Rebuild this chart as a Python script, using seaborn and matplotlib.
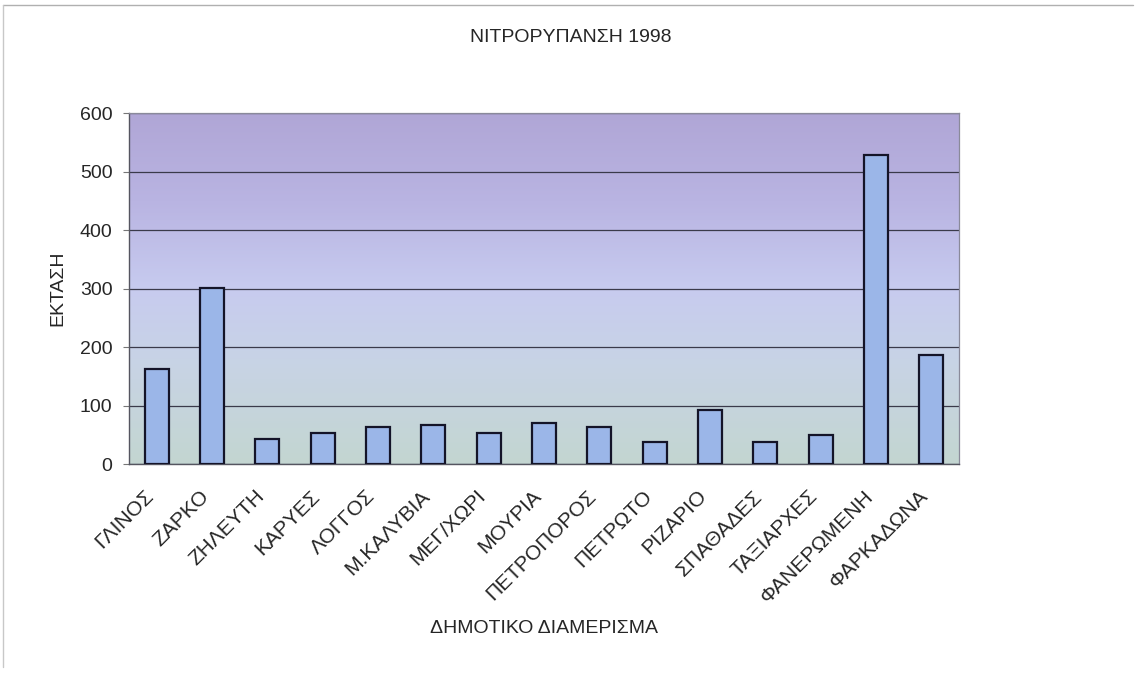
import numpy as np
import pandas as pd
import seaborn as sns
import matplotlib.pyplot as plt
from matplotlib.colors import LinearSegmentedColormap
from matplotlib.ticker import FixedLocator
from matplotlib.lines import Line2D
from matplotlib.transforms import ScaledTranslation

# Data
villages = ["ΓΛΙΝΟΣ", "ΖΑΡΚΟ", "ΖΗΛΕΥΤΗ", "ΚΑΡΥΕΣ", "ΛΟΓΓΟΣ", "Μ.ΚΑΛΥΒΙΑ",
            "ΜΕΓ/ΧΩΡΙ", "ΜΟΥΡΙΑ", "ΠΕΤΡΟΠΟΡΟΣ", "ΠΕΤΡΩΤΟ", "ΡΙΖΑΡΙΟ",
            "ΣΠΑΘΑΔΕΣ", "ΤΑΞΙΑΡΧΕΣ", "ΦΑΝΕΡΩΜΕΝΗ", "ΦΑΡΚΑΔΩΝΑ"]
area = [163, 301, 43, 53, 63, 66, 53, 70, 63, 37, 93, 37, 50, 528, 186]
yticks = [0, 100, 200, 300, 400, 500, 600]

df = pd.DataFrame({"village": villages, "area": area})

sns.set_style("white")
plt.rcParams["font.family"] = ["Liberation Sans", "DejaVu Sans"]

fig = plt.figure(figsize=(11.36, 6.81), dpi=100)
ax = fig.add_axes([0.1136, 0.3186, 0.7306, 0.5154])

# gradient background like the old Excel fill (purple top -> grey-green bottom)
cmap = LinearSegmentedColormap.from_list(
    "bg", [(0.0, "#c3d6d1"), (0.3, "#c8d3e6"), (0.5, "#c7cbef"),
           (0.75, "#b9b4e2"), (1.0, "#b0a6d6")])
grad = np.linspace(0, 1, 256).reshape(-1, 1)
ax.imshow(grad, cmap=cmap, origin="lower", aspect="auto",
          extent=[0, 1, 0, 1], transform=ax.transAxes, zorder=-2)

sns.barplot(data=df, x="village", y="area", color="#9bb6e8",
            edgecolor="#141428", linewidth=1.6, width=0.43,
            saturation=1, ax=ax, zorder=3)

ax.set_xlim(-0.5, len(villages) - 0.5)
ax.set_ylim(0, 600)
ax.set_yticks(yticks)
ax.grid(axis="y", color="#3a3a4a", linewidth=0.9, zorder=1)
ax.grid(axis="x", visible=False)

for side in ["top", "right"]:
    ax.spines[side].set_color("#8a8a9a")
    ax.spines[side].set_linewidth(0.9)
for side in ["left", "bottom"]:
    ax.spines[side].set_color("#555560")
    ax.spines[side].set_linewidth(1.0)

# ticks between categories, labels under the bars
ax.xaxis.set_minor_locator(FixedLocator(np.arange(-0.5, len(villages), 1.0)))
ax.tick_params(axis="x", which="minor", length=4, color="#777777", direction="out")
ax.tick_params(axis="x", which="major", length=0, pad=21, labelsize=15)
ax.tick_params(axis="y", length=4, color="#777777", direction="out",
               pad=8, labelsize=14, left=True)
shift = ScaledTranslation(-6 / 100, 0, fig.dpi_scale_trans)
for lbl in ax.get_xticklabels():
    lbl.set_rotation(45)
    lbl.set_ha("right")
    lbl.set_va("center")
    lbl.set_rotation_mode("anchor")
    lbl.set_transform(lbl.get_transform() + shift)

ax.set_xlabel("ΔΗΜΟΤΙΚΟ ΔΙΑΜΕΡΙΣΜΑ", fontsize=14)
ax.xaxis.set_label_coords(0.5, -0.444)
ax.set_ylabel("ΕΚΤΑΣΗ", fontsize=14)
ax.yaxis.set_label_coords(-0.076, 0.5)

fig.text(0.502, 1 - 38 / 681, "ΝΙΤΡΟΡΥΠΑΝΣΗ 1998", ha="center", va="center",
         fontsize=14)

# thin frame lines of the scanned chart area
fig.add_artist(Line2D([0.003, 0.997], [0.993, 0.993], color="#b0b0b0", lw=1))
fig.add_artist(Line2D([0.003, 0.003], [0.02, 0.993], color="#c8c8c8", lw=1))

fig.savefig("out.png", dpi=100)
